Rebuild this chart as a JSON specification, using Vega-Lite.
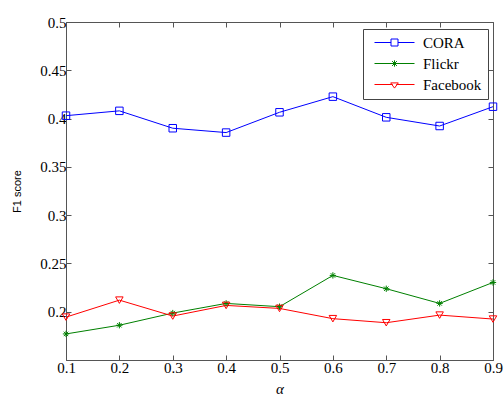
{
  "$schema": "https://vega.github.io/schema/vega-lite/v6.json",
  "width": 427,
  "height": 338,
  "autosize": "none",
  "padding": {"left": 66, "top": 22, "right": 11, "bottom": 34},
  "background": "white",
  "config": {"view": {"stroke": null}},
  "data": {"values": [
    {"alpha": 0.1, "series": "CORA", "f1": 0.403},
    {"alpha": 0.2, "series": "CORA", "f1": 0.408},
    {"alpha": 0.3, "series": "CORA", "f1": 0.390},
    {"alpha": 0.4, "series": "CORA", "f1": 0.3855},
    {"alpha": 0.5, "series": "CORA", "f1": 0.4065},
    {"alpha": 0.6, "series": "CORA", "f1": 0.4227},
    {"alpha": 0.7, "series": "CORA", "f1": 0.4013},
    {"alpha": 0.8, "series": "CORA", "f1": 0.3923},
    {"alpha": 0.9, "series": "CORA", "f1": 0.4123},
    {"alpha": 0.1, "series": "Flickr", "f1": 0.177},
    {"alpha": 0.2, "series": "Flickr", "f1": 0.186},
    {"alpha": 0.3, "series": "Flickr", "f1": 0.1986},
    {"alpha": 0.4, "series": "Flickr", "f1": 0.2086},
    {"alpha": 0.5, "series": "Flickr", "f1": 0.2052},
    {"alpha": 0.6, "series": "Flickr", "f1": 0.2376},
    {"alpha": 0.7, "series": "Flickr", "f1": 0.2238},
    {"alpha": 0.8, "series": "Flickr", "f1": 0.2086},
    {"alpha": 0.9, "series": "Flickr", "f1": 0.2303},
    {"alpha": 0.1, "series": "Facebook", "f1": 0.1944},
    {"alpha": 0.2, "series": "Facebook", "f1": 0.212},
    {"alpha": 0.3, "series": "Facebook", "f1": 0.1955},
    {"alpha": 0.4, "series": "Facebook", "f1": 0.2065},
    {"alpha": 0.5, "series": "Facebook", "f1": 0.2034},
    {"alpha": 0.6, "series": "Facebook", "f1": 0.1928},
    {"alpha": 0.7, "series": "Facebook", "f1": 0.1886},
    {"alpha": 0.8, "series": "Facebook", "f1": 0.1965},
    {"alpha": 0.9, "series": "Facebook", "f1": 0.1924}
  ]},
  "layer": [
    {
      "mark": {"type": "line", "strokeWidth": 1},
      "encoding": {
        "x": {"field": "alpha", "type": "quantitative",
          "scale": {"domain": [0.1, 0.9], "nice": false, "zero": false},
          "axis": {"orient": "bottom", "values": [0.1,0.2,0.3,0.4,0.5,0.6,0.7,0.8,0.9], "format": ".1f", "grid": false,
            "domainColor": "#555", "tickColor": "#555", "tickSize": -5,
            "labelFont": "Liberation Serif", "labelFontSize": 15, "labelColor": "black", "labelPadding": 5, "labelFlush": false,
            "title": "α", "titleFont": "Liberation Serif", "titleFontStyle": "italic", "titleFontWeight": "normal", "titleFontSize": 15, "titleColor": "black", "titlePadding": 6}},
        "y": {"field": "f1", "type": "quantitative",
          "scale": {"domain": [0.15, 0.5], "nice": false, "zero": false},
          "axis": {"orient": "left", "values": [0.15,0.2,0.25,0.3,0.35,0.4,0.45,0.5], "labelExpr": "datum.value < 0.17 ? '' : format(datum.value, '~g')", "grid": false,
            "domainColor": "#555", "tickColor": "#555", "tickSize": -5,
            "labelFont": "Liberation Serif", "labelFontSize": 15, "labelColor": "black", "labelPadding": 5,
            "title": "F1 score", "titleFont": "Liberation Sans", "titleFontWeight": "normal", "titleFontSize": 11, "titleColor": "black", "titlePadding": 17}},
        "color": {"field": "series", "type": "nominal",
          "scale": {"domain": ["CORA", "Flickr", "Facebook"], "range": ["#0000ff", "#008000", "#ff0000"]},
          "legend": {"title": null, "orient": "none", "legendX": 297, "legendY": 7,
            "fillColor": "white", "strokeColor": "#444", "padding": 6,
            "labelFont": "Liberation Serif", "labelFontSize": 15, "labelColor": "black", "labelOffset": 39,
            "symbolSize": 64, "symbolStrokeWidth": 1, "rowPadding": 5,
            "encode": {"symbols": {"update": {
              "shape": {"signal": "datum.value == 'CORA' ? 'M-0.5,0L3.625,0M5.375,0L9.5,0M3.625,-0.875L5.375,-0.875L5.375,0.875L3.625,0.875Z' : datum.value == 'Flickr' ? 'M-0.5,0L9.5,0M4.5,-0.8L4.5,0.8M3.9,-0.6L5.1,0.6M3.9,0.6L5.1,-0.6' : 'M-0.5,0L4.05,0M4.95,0L9.5,0M3.55,-0.4L5.45,-0.4L4.5,0.9Z'"},
              "fill": {"value": "transparent"}
            }}}}}
      }
    },
    {
      "transform": [{"filter": "datum.series == 'CORA'"}],
      "mark": {"type": "point", "shape": "square", "filled": false, "strokeWidth": 1, "opacity": 1, "size": 56},
      "encoding": {
        "x": {"field": "alpha", "type": "quantitative", "axis": null},
        "y": {"field": "f1", "type": "quantitative", "axis": null},
        "color": {"field": "series", "type": "nominal", "legend": null}
      }
    },
    {
      "transform": [{"filter": "datum.series == 'Flickr'"}],
      "mark": {"type": "point", "shape": "M-1,0L1,0M0,-1L0,1M-0.7,-0.7L0.7,0.7M-0.7,0.7L0.7,-0.7", "filled": false, "strokeWidth": 1, "opacity": 1, "size": 40},
      "encoding": {
        "x": {"field": "alpha", "type": "quantitative", "axis": null},
        "y": {"field": "f1", "type": "quantitative", "axis": null},
        "color": {"field": "series", "type": "nominal", "legend": null}
      }
    },
    {
      "transform": [{"filter": "datum.series == 'Facebook'"}],
      "mark": {"type": "point", "shape": "triangle-down", "filled": false, "strokeWidth": 1, "opacity": 1, "size": 56},
      "encoding": {
        "x": {"field": "alpha", "type": "quantitative", "axis": null},
        "y": {"field": "f1", "type": "quantitative", "axis": null},
        "color": {"field": "series", "type": "nominal", "legend": null}
      }
    },
    {
      "mark": {"type": "point", "opacity": 0},
      "encoding": {
        "x": {"field": "alpha", "type": "quantitative",
          "axis": {"orient": "top", "values": [0.1,0.2,0.3,0.4,0.5,0.6,0.7,0.8,0.9], "labels": false, "title": null, "grid": false,
            "domainColor": "#555", "tickColor": "#555", "tickSize": -5}},
        "y": {"field": "f1", "type": "quantitative",
          "axis": {"orient": "right", "values": [0.15,0.2,0.25,0.3,0.35,0.4,0.45,0.5], "labels": false, "title": null, "grid": false,
            "domainColor": "#555", "tickColor": "#555", "tickSize": -5}}
      }
    }
  ],
  "resolve": {"axis": {"x": "independent", "y": "independent"}}
}
